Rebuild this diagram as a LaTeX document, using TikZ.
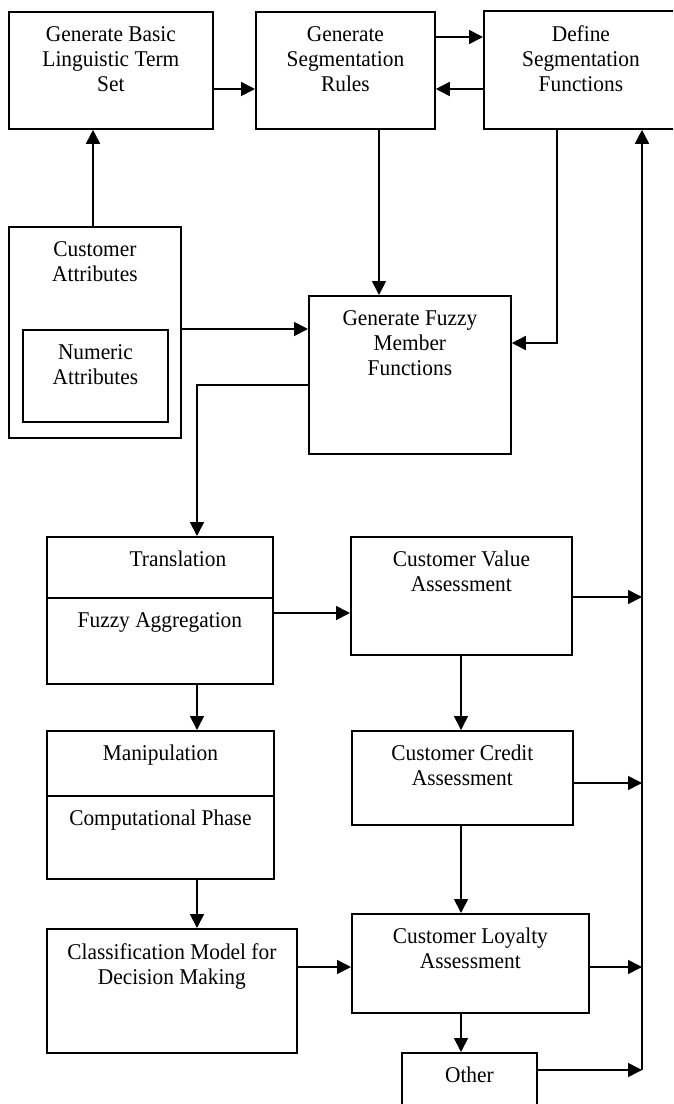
\documentclass[tikz,border=0pt]{standalone}
\usepackage{fontspec}
\setmainfont{Liberation Serif}[FakeStretch=0.95]
\usetikzlibrary{arrows.meta}

\begin{document}
\begin{tikzpicture}[x=1pt, y=-1pt,
    box/.style={draw, line width=1.8pt, inner sep=0pt, anchor=north west},
    lbl/.style={anchor=north, align=center, inner sep=0pt, yshift=-15pt,
                font=\fontsize{22.5}{25}\selectfont},
    arr/.style={line width=1.7pt, -{Triangle[length=14pt, width=14pt]}}]
    \useasboundingbox (0,0) rectangle (673,1104);
    \clip (0,0) rectangle (673,1104);

    % 上段のボックス
    \node[box, minimum width=204, minimum height=117, label={[lbl]north:Generate Basic\\Linguistic Term\\Set}] (glts) at (8,11) {};
    \node[box, minimum width=179, minimum height=117, label={[lbl]north:Generate\\Segmentation\\Rules}] (gsr) at (255,11) {};
    \node[box, minimum width=194, minimum height=118, label={[lbl]north:Define\\Segmentation\\Functions}] (dsf) at (483,10) {};

    % 属性とメンバーシップ関数
    \node[box, minimum width=172, minimum height=211, label={[lbl]north:Customer\\Attributes}] (cattr) at (8,226) {};
    \node[box, minimum width=145, minimum height=92, label={[lbl]north:Numeric\\Attributes}] (nattr) at (22,329) {};
    \node[box, minimum width=202, minimum height=158, label={[lbl]north:Generate Fuzzy\\Member\\Functions}] (gfmf) at (308,295) {};

    % 左の列
    \node[box, minimum width=226, minimum height=61, label={[lbl, xshift=18pt]north:Translation}] (trans) at (46,536) {};
    \node[box, minimum width=226, minimum height=86, label={[lbl]north:Fuzzy Aggregation}] (fagg) at (46,597) {};
    \node[box, minimum width=227, minimum height=65, label={[lbl]north:Manipulation}] (manip) at (46,730) {};
    \node[box, minimum width=227, minimum height=83, label={[lbl]north:Computational Phase}] (comp) at (46,795) {};
    \node[box, minimum width=250, minimum height=124, label={[lbl]north:Classification Model for\\Decision Making}] (cmdm) at (46,928) {};

    % 右の列(評価)
    \node[box, minimum width=221, minimum height=118, label={[lbl]north:Customer Value\\Assessment}] (cva) at (350,536) {};
    \node[box, minimum width=221, minimum height=94, label={[lbl]north:Customer Credit\\Assessment}] (cca) at (351,730) {};
    \node[box, minimum width=237, minimum height=99, label={[lbl]north:Customer Loyalty\\Assessment}] (cla) at (351,913) {};
    \node[box, minimum width=135, minimum height=80, label={[lbl]north:Other}] (other) at (401,1052) {};

    % 矢印
    \draw[arr] (glts.east |- 0,89) -- (gsr.west |- 0,89);
    \draw[arr] (gsr.east |- 0,37) -- (dsf.west |- 0,37);
    \draw[arr] (dsf.west |- 0,89) -- (gsr.east |- 0,89);
    \draw[arr] (cattr.north -| 93,0) -- (glts.south -| 93,0);
    \draw[arr] (cattr.east |- 0,329) -- (gfmf.west |- 0,329);
    \draw[arr] (gsr.south -| 379,0) -- (gfmf.north -| 379,0);
    \draw[arr] (dsf.south -| 557,0) |- (gfmf.east |- 0,343);
    \draw[arr] (gfmf.west |- 0,385) -| (trans.north -| 197,0);
    \draw[arr] (fagg.south -| 197,0) -- (manip.north -| 197,0);
    \draw[arr] (comp.south -| 197,0) -- (cmdm.north -| 197,0);
    \draw[arr] (fagg.east |- 0,613) -- (cva.west |- 0,613);
    \draw[arr] (cmdm.east |- 0,967) -- (cla.west |- 0,967);
    \draw[arr] (cva.south -| 461,0) -- (cca.north -| 461,0);
    \draw[arr] (cca.south -| 461,0) -- (cla.north -| 461,0);
    \draw[arr] (cla.south -| 461,0) -- (other.north -| 461,0);

    % 右端の縦線
    \coordinate (bus) at (642,1070);
    \draw[arr] (bus) -- (dsf.south -| bus);
    \draw[arr] (cva.east |- 0,597) -- (bus |- 0,597);
    \draw[arr] (cca.east |- 0,783) -- (bus |- 0,783);
    \draw[arr] (cla.east |- 0,967) -- (bus |- 0,967);
    \draw[arr] (other.east |- 0,1070) -- (bus);
\end{tikzpicture}
\end{document}
